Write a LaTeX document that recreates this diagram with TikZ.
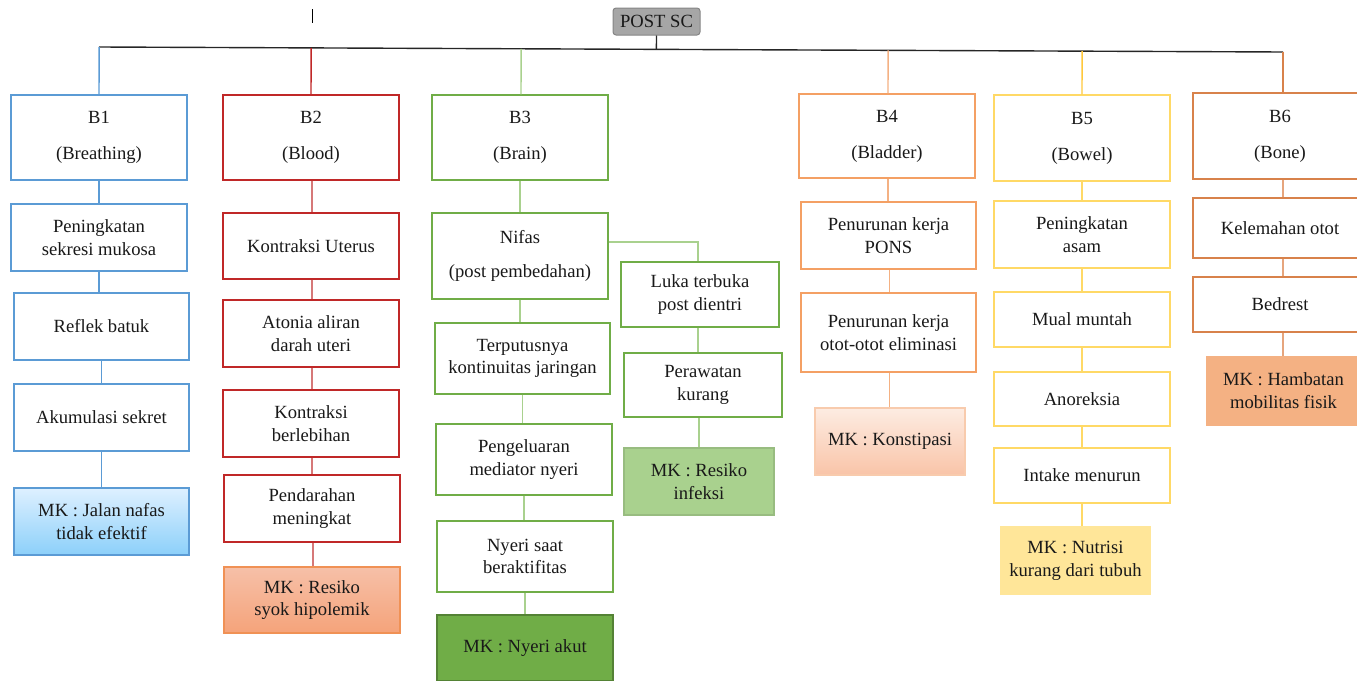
\documentclass[tikz,border=0pt]{standalone}
\usepackage{fontspec}
\setmainfont{Liberation Serif}
\newfontfamily\tnr{Liberation Serif}
\usetikzlibrary{calc}
\definecolor{cB1}{RGB}{91,155,213}
\definecolor{cB2}{RGB}{192,40,40}
\definecolor{cB2l}{RGB}{214,120,120}
\definecolor{cB3}{RGB}{112,173,71}
\definecolor{cB3l}{RGB}{169,209,142}
\definecolor{cB3d}{RGB}{84,130,53}
\definecolor{cB4}{RGB}{244,160,100}
\definecolor{cB4l}{RGB}{244,177,131}
\definecolor{cB5}{RGB}{255,217,102}
\definecolor{cB5d}{RGB}{255,200,60}
\definecolor{cB6}{RGB}{216,130,75}
\definecolor{cB6l}{RGB}{230,165,125}
\definecolor{mkAtop}{RGB}{222,240,255}
\definecolor{mkAbot}{RGB}{140,208,250}
\definecolor{mkBtop}{RGB}{246,192,168}
\definecolor{mkBbot}{RGB}{245,163,122}
\definecolor{mkBbd}{RGB}{240,145,85}
\definecolor{mkDtop}{RGB}{253,236,226}
\definecolor{mkDbot}{RGB}{249,196,168}
\definecolor{mkDbd}{RGB}{248,203,173}
\definecolor{mkE}{RGB}{255,230,153}
\definecolor{rootfill}{RGB}{166,166,166}
\definecolor{txt}{RGB}{25,25,25}
\begin{document}
\begin{tikzpicture}[x=1pt,y=-1pt,
  every node/.style={font=\tnr\fontsize{18.6}{22.8}\selectfont, text=txt, align=center, inner sep=0pt},
  bx/.style={draw, line width=1.3pt, fill=white},
  ln/.style={line width=1.4pt}]
\useasboundingbox (0,0) rectangle (1357,680);
% root
\node[draw=rootfill!80!black, fill=rootfill, rounded corners=3pt, line width=1pt, minimum width=87pt, minimum height=27pt] (root) at (656.5,21.5) {POST SC};
\draw[line width=0.8pt] (312,9) -- (312,23);
\coordinate (busL) at (99,47);
\coordinate (busR) at (1283,52);
% B1
\node[bx, draw=cB1, minimum width=176pt, minimum height=85pt] (b1) at (99,137.5) {B1\\[13pt](Breathing)};
\node[bx, draw=cB1, minimum width=176pt, minimum height=67pt] (s11) at (99,237.5) {Peningkatan\\sekresi mukosa};
\node[bx, draw=cB1, minimum width=175pt, minimum height=67pt] (s12) at (101.5,326.5) {Reflek batuk};
\node[bx, draw=cB1, minimum width=175pt, minimum height=67pt] (s13) at (101.5,417.5) {Akumulasi sekret};
\node[draw=cB1, line width=1.3pt, top color=mkAtop, bottom color=mkAbot, minimum width=175pt, minimum height=67pt] (mk1) at (101.5,521.5) {MK : Jalan nafas\\tidak efektif};
% B2
\node[bx, draw=cB2, minimum width=176pt, minimum height=85pt] (b2) at (311,137.5) {B2\\[13pt](Blood)};
\node[bx, draw=cB2, minimum width=176pt, minimum height=66pt] (s21) at (311,246) {Kontraksi Uterus};
\node[bx, draw=cB2, minimum width=176pt, minimum height=67pt] (s22) at (311,333.5) {Atonia aliran\\darah uteri};
\node[bx, draw=cB2, minimum width=176pt, minimum height=67pt] (s23) at (311,423.5) {Kontraksi\\berlebihan};
\node[bx, draw=cB2, minimum width=176pt, minimum height=67pt] (s24) at (312,508.5) {Pendarahan\\meningkat};
\node[draw=mkBbd, line width=1.3pt, top color=mkBtop, bottom color=mkBbot, minimum width=176pt, minimum height=66pt] (mk2) at (312,600) {MK : Resiko\\syok hipolemik};
% B3
\node[bx, draw=cB3, minimum width=176pt, minimum height=85pt] (b3) at (520,137.5) {B3\\[13pt](Brain)};
\node[bx, draw=cB3, minimum width=176pt, minimum height=86pt] (s31) at (520,256) {Nifas\\[11pt](post pembedahan)};
\node[bx, draw=cB3, minimum width=175pt, minimum height=71pt] (s32) at (522.5,358.5) {Terputusnya\\kontinuitas jaringan};
\node[bx, draw=cB3, minimum width=176pt, minimum height=71pt] (s33) at (524,459.5) {Pengeluaran\\mediator nyeri};
\node[bx, draw=cB3, minimum width=176pt, minimum height=71pt] (s34) at (525,556.5) {Nyeri saat\\beraktifitas};
\node[draw=cB3d, line width=1.3pt, fill=cB3, minimum width=176pt, minimum height=66pt] (mk3) at (525,648) {MK : Nyeri akut};
\node[bx, draw=cB3, minimum width=158pt, minimum height=65pt] (s35) at (700,294.5) {Luka terbuka\\post dientri};
\node[bx, draw=cB3, minimum width=158pt, minimum height=64pt] (s36) at (703,385) {Perawatan\\kurang};
\node[draw=cB3l!90!black, line width=1.3pt, fill=cB3l, minimum width=150pt, minimum height=67pt] (mk3b) at (699,481.5) {MK : Resiko\\infeksi};
% B4
\node[bx, draw=cB4, minimum width=176pt, minimum height=84pt] (b4) at (887,136) {B4\\[13pt](Bladder)};
\node[bx, draw=cB4, minimum width=175pt, minimum height=67pt] (s41) at (888.5,235.5) {Penurunan kerja\\PONS};
\node[bx, draw=cB4, minimum width=175pt, minimum height=79pt] (s42) at (888.5,332.5) {Penurunan kerja\\otot-otot eliminasi};
\node[draw=mkDbd, line width=1.3pt, top color=mkDtop, bottom color=mkDbot, minimum width=150pt, minimum height=67pt] (mk4) at (890,441.5) {MK : Konstipasi};
% B5
\node[bx, draw=cB5, minimum width=176pt, minimum height=86pt] (b5) at (1082,138) {B5\\[13pt](Bowel)};
\node[bx, draw=cB5, minimum width=176pt, minimum height=67pt] (s51) at (1082,234.5) {Peningkatan\\asam};
\node[bx, draw=cB5, minimum width=176pt, minimum height=55pt] (s52) at (1082,319.5) {Mual muntah};
\node[bx, draw=cB5, minimum width=176pt, minimum height=54pt] (s53) at (1082,399) {Anoreksia};
\node[bx, draw=cB5, minimum width=176pt, minimum height=55pt] (s54) at (1082,475.5) {Intake menurun};
\node[draw=mkE, line width=1.3pt, fill=mkE, minimum width=149pt, minimum height=67pt] (mk5) at (1075.5,560.5) {MK : Nutrisi\\kurang dari tubuh};
% B6
\node[bx, draw=cB6, minimum width=174pt, minimum height=86pt] (b6) at (1280,136) {B6\\[13pt](Bone)};
\node[bx, draw=cB6, minimum width=174pt, minimum height=60pt] (s61) at (1280,228) {Kelemahan otot};
\node[bx, draw=cB6, minimum width=174pt, minimum height=55pt] (s62) at (1280,304.5) {Bedrest};
\node[draw=cB4l, line width=1.3pt, fill=cB4l, minimum width=153pt, minimum height=68pt] (mk6) at (1283.5,391) {MK : Hambatan\\mobilitas fisik};
% bus
\draw[ln, black!85] (busL) -- (busR);
\draw[ln, black!85] (root.south) -- ($(busL)!(root.south)!(busR)$);
\draw[ln, cB1] (b1.north) -- ($(busL)!(b1.north)!(busR)$);
\draw[ln, cB2] (b2.north) -- ($(busL)!(b2.north)!(busR)$);
\draw[ln, cB3l] ([xshift=1pt]b3.north) -- ($(busL)!([xshift=1pt]b3.north)!(busR)$);
\draw[ln, cB4l] ([xshift=1pt]b4.north) -- ($(busL)!([xshift=1pt]b4.north)!(busR)$);
\draw[ln, cB5d] (b5.north) -- ($(busL)!(b5.north)!(busR)$);
\draw[ln, cB6] ([xshift=3pt]b6.north) -- (busR);
% column connectors
\foreach \a/\b in {b1/s11,s11/s12,s12/s13,s13/mk1}{\draw[ln, cB1] (\a.south) -- (\a.south |- \b.north);}
\foreach \a/\b in {b2/s21,s21/s22,s22/s23,s23/s24,s24/mk2}{\draw[ln, cB2l] ([xshift=1pt]\a.south) -- ([xshift=1pt]\a.south |- \b.north);}
\foreach \a/\b in {b3/s31,s31/s32,s32/s33,s33/s34,s34/mk3}{\draw[ln, cB3l] (\a.south) -- (\a.south |- \b.north);}
\foreach \a/\b in {s35/s36}{\draw[ln, cB3l] ([xshift=-2pt]\a.south) -- ([xshift=-2pt]\a.south |- \b.north);}
\draw[ln, cB3l] (s36.south -| mk3b.north) -- (mk3b.north);
\draw[ln, cB3l] ([yshift=14pt]s31.east) -| ([xshift=-2pt]s35.north);
\foreach \a/\b in {b4/s41,s41/s42,s42/mk4}{\draw[ln, cB4l] ([xshift=1pt]\a.south) -- ([xshift=1pt]\a.south |- \b.north);}
\foreach \a/\b in {b5/s51,s51/s52,s52/s53,s53/s54,s54/mk5}{\draw[ln, cB5] (\a.south) -- (\a.south |- \b.north);}
\foreach \a/\b in {b6/s61,s61/s62,s62/mk6}{\draw[ln, cB6l] ([xshift=3pt]\a.south) -- ([xshift=3pt]\a.south |- \b.north);}
\end{tikzpicture}
\end{document}
